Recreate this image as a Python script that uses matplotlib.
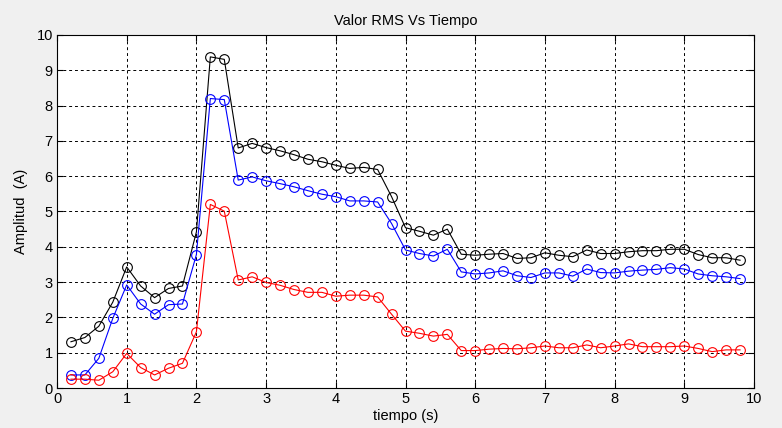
import numpy as np
import matplotlib
matplotlib.use("Agg")
import matplotlib.pyplot as plt

t = [round(0.2 * i, 1) for i in range(1, 50)]

black = [1.31, 1.43, 1.75, 2.43, 3.43, 2.89, 2.56, 2.82, 2.89, 4.42,
         9.38, 9.31, 6.80, 6.93, 6.81, 6.72, 6.61, 6.48, 6.41, 6.31,
         6.22, 6.25, 6.19, 5.42, 4.54, 4.44, 4.33, 4.50, 3.79, 3.76,
         3.79, 3.81, 3.67, 3.69, 3.83, 3.76, 3.72, 3.91, 3.81, 3.81,
         3.86, 3.89, 3.89, 3.93, 3.93, 3.78, 3.69, 3.69, 3.62]

blue = [0.37, 0.37, 0.84, 1.97, 2.92, 2.38, 2.09, 2.36, 2.38, 3.78,
        8.20, 8.17, 5.89, 5.98, 5.87, 5.79, 5.70, 5.59, 5.49, 5.42,
        5.30, 5.30, 5.27, 4.66, 3.91, 3.81, 3.74, 3.93, 3.29, 3.23,
        3.26, 3.32, 3.18, 3.13, 3.26, 3.26, 3.17, 3.37, 3.27, 3.26,
        3.31, 3.34, 3.36, 3.41, 3.37, 3.23, 3.18, 3.15, 3.10]

red = [0.25, 0.25, 0.22, 0.46, 0.98, 0.58, 0.37, 0.56, 0.70, 1.59,
       5.20, 5.01, 3.06, 3.15, 2.99, 2.91, 2.79, 2.71, 2.71, 2.60,
       2.63, 2.63, 2.58, 2.09, 1.61, 1.55, 1.47, 1.52, 1.06, 1.06,
       1.10, 1.12, 1.11, 1.14, 1.19, 1.14, 1.14, 1.22, 1.14, 1.19,
       1.25, 1.17, 1.17, 1.17, 1.19, 1.12, 1.03, 1.08, 1.08]

xticks = list(range(0, 11))
yticks = list(range(0, 11))

fam = ['Liberation Sans Narrow', 'Liberation Sans', 'DejaVu Sans']
plt.rcParams['font.family'] = fam

fig = plt.figure(figsize=(7.82, 4.28), dpi=100, facecolor='#f0f0f0')
ax = fig.add_axes([57/782, 1 - 388/428, (754 - 57)/782, (388 - 35)/428])
ax.set_facecolor('white')

for ys, c in [(black, 'black'), (blue, 'blue'), (red, 'red')]:
    ax.plot(t, ys, color=c, lw=0.8, marker='o', ms=7, mfc='none', mec=c, mew=0.8)

ax.set_xlim(0, 10)
ax.set_ylim(0, 10)
ax.set_xticks(xticks)
ax.set_yticks(yticks)
ax.grid(True, color='black', linestyle=(0, (3, 3)), linewidth=0.7)
ax.tick_params(direction='in', top=True, right=True, length=4, labelsize=10.5, pad=3)
for s in ax.spines.values():
    s.set_linewidth(0.8)
ax.set_title('Valor RMS Vs Tiempo', fontsize=10.5, pad=7)
ax.set_xlabel('tiempo (s)', fontsize=10.5, labelpad=2)
ax.set_ylabel('Amplitud  (A)', fontsize=10.5, labelpad=6)

fig.savefig('out.png', dpi=100, facecolor=fig.get_facecolor())
